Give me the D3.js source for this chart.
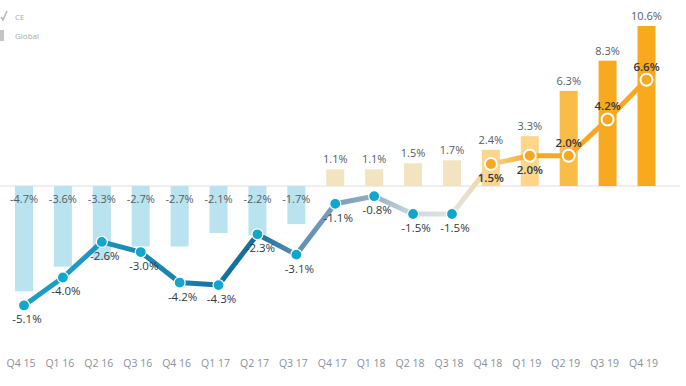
<!DOCTYPE html>
<html><head><meta charset="utf-8">
<script src="https://cdn.jsdelivr.net/npm/d3@7"></script>
<style>html,body{margin:0;padding:0;background:#fff;}svg{display:block;font-family:"Open Sans",sans-serif;}</style>
</head><body>
<svg id="c" width="686" height="386"></svg>
<script>
const quarters = ["Q4 15","Q1 16","Q2 16","Q3 16","Q4 16","Q1 17","Q2 17","Q3 17","Q4 17","Q1 18","Q2 18","Q3 18","Q4 18","Q1 19","Q2 19","Q3 19","Q4 19"];
const globalValues = [-4.7,-3.6,-3.3,-2.7,-2.7,-2.1,-2.2,-1.7,1.1,1.1,1.5,1.7,2.4,3.3,6.3,8.3,10.6];
const ceValues = [-5.1,-4.0,-2.6,-3.0,-4.2,-4.3,-2.3,-3.1,-1.1,-0.8,-1.5,-1.5,1.5,2.0,2.0,4.2,6.6];
const ceLabelAbove = [false,false,false,false,false,false,false,false,false,false,false,false,false,false,true,true,true];
const legendLabels = ["CE","Global"];

// styles
const barColors = ["#b9e3ef","#b9e3ef","#b9e3ef","#b9e3ef","#b9e3ef","#b9e3ef","#b9e3ef","#b9e3ef",
  "#f2e3c1","#f2e3c1","#f2e3c1","#f2e3c1","#fcd68d","#fdd68a","#f9bd47","#f7aa1f","#f8a91c"];
const lineColors = ["#1d9dc2","#1d9dc2","#1c93bb","#1a88b2","#1a82ad","#15729d","#156f9b","#5e8fb1","#7b9db9","#95afc2","#cbd9de","#dfe5e2","#f6d596","#f6a821","#f6a821","#f6a821","#f6a821"];

const svg = d3.select("#c");
const x = d3.scalePoint().domain(quarters).range([24, 646.5]);
const yBar = d3.scaleLinear().domain([-5.5, 0, 11]).range([309.2, 186, 19.9]);
const yLine = d3.scaleLinear().domain([-5.5, -0.8, 1.5, 11]).range([315.6, 196.2, 164, 7.2]);
const barW = 18;

// baseline
svg.append("line").attr("x1", 0).attr("x2", 680).attr("y1", yBar(0)).attr("y2", yBar(0))
  .attr("stroke", "#dedede").attr("stroke-width", 1);

// bars
svg.selectAll("rect.bar").data(globalValues).join("rect").attr("class","bar")
  .attr("x", (d,i) => x(quarters[i]) - barW/2)
  .attr("y", d => Math.min(yBar(d), yBar(0)))
  .attr("width", barW)
  .attr("height", d => Math.abs(yBar(d) - yBar(0)))
  .attr("fill", (d,i) => barColors[i]);

// bar labels
svg.selectAll("text.bl").data(globalValues).join("text").attr("class","bl")
  .attr("x", (d,i) => x(quarters[i]))
  .attr("y", d => d >= 0 ? yBar(d) - 6 : yBar(0) + 17)
  .attr("text-anchor", "middle").attr("font-size", 11).attr("fill", "#555b63")
  .text(d => d.toFixed(1) + "%");

// line segments with gradients
const defs = svg.append("defs");
for (let i = 0; i < ceValues.length - 1; i++) {
  const x1 = x(quarters[i]), x2 = x(quarters[i+1]);
  const y1 = yLine(ceValues[i]), y2 = yLine(ceValues[i+1]);
  const g = defs.append("linearGradient").attr("id", "g" + i).attr("gradientUnits", "userSpaceOnUse")
    .attr("x1", x1).attr("y1", y1).attr("x2", x2).attr("y2", y2);
  g.append("stop").attr("offset", "0%").attr("stop-color", lineColors[i]);
  g.append("stop").attr("offset", "100%").attr("stop-color", lineColors[i+1]);
  svg.append("line").attr("x1", x1).attr("y1", y1).attr("x2", x2).attr("y2", y2)
    .attr("stroke", `url(#g${i})`).attr("stroke-width", 5);
}

// points
svg.selectAll("circle.pt").data(ceValues).join("circle").attr("class","pt")
  .attr("cx", (d,i) => x(quarters[i]))
  .attr("cy", d => yLine(d))
  .attr("r", d => d >= 0 ? 6 : 5.5)
  .attr("fill", d => d >= 0 ? "#f6a821" : "#11a6cc")
  .attr("stroke", "#fff")
  .attr("stroke-width", d => d >= 0 ? 2 : 1.2);

// line labels
svg.selectAll("text.ll").data(ceValues).join("text").attr("class","ll")
  .attr("x", (d,i) => x(quarters[i]) + (d < 0 ? 3 : 0))
  .attr("y", (d,i) => ceLabelAbove[i] ? yLine(d) - 9 : yLine(d) + 18)
  .attr("text-anchor", "middle").attr("font-size", 11.5)
  .attr("font-weight", d => d >= 0 ? 600 : 400)
  .attr("fill", "#33383d")
  .text(d => d.toFixed(1) + "%");

// x axis labels
svg.selectAll("text.xl").data(quarters).join("text").attr("class","xl")
  .attr("x", d => x(d) - 3).attr("y", 367)
  .attr("text-anchor", "middle").attr("font-size", 10.5).attr("fill", "#8a9099")
  .text(d => d);

// legend
const lg = svg.append("g");
lg.append("path").attr("d", "M1,17 L3,20 L7,11").attr("fill","none").attr("stroke","#b5b5b5").attr("stroke-width",1.5);
lg.append("rect").attr("x", 0).attr("y", 30).attr("width", 4).attr("height", 11).attr("fill", "#c4c4c4");
lg.selectAll("text").data(legendLabels).join("text")
  .attr("x", 15).attr("y", (d,i) => 20 + i*19)
  .attr("font-size", 8).attr("fill", "#aaaaaa").text(d => d);
</script>
</body></html>
